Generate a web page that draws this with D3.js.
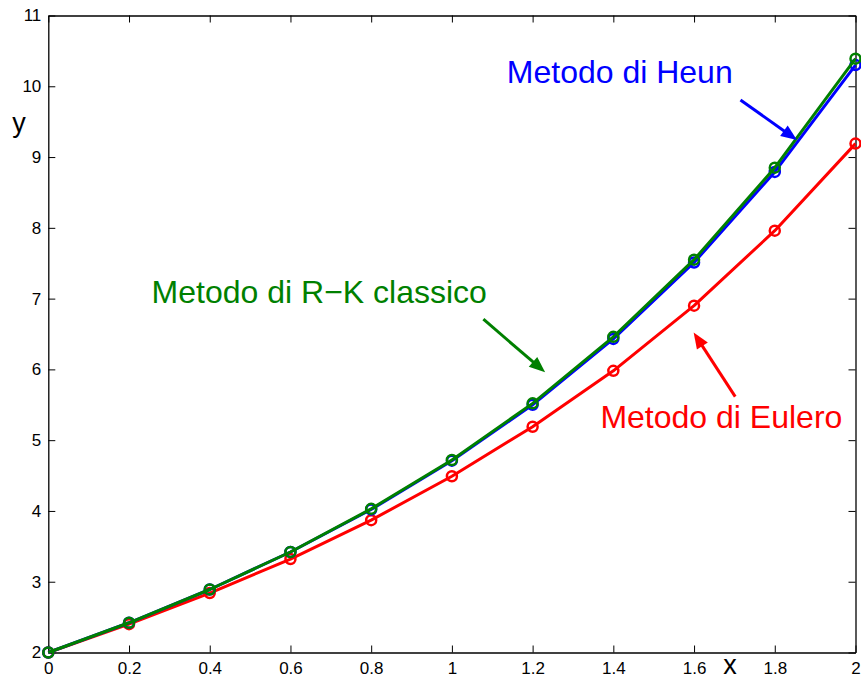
<!DOCTYPE html>
<html>
<head>
<meta charset="utf-8">
<script src="https://cdn.jsdelivr.net/npm/d3@7"></script>
<style>
  body { margin: 0; background: #fff; }
  svg { display: block; font-family: "Liberation Sans", Arial, Helvetica, sans-serif; }
</style>
</head>
<body>
<svg width="861" height="681"></svg>
<script>
// step points and the three numerical solutions
var xs = [0, 0.2, 0.4, 0.6, 0.8, 1.0, 1.2, 1.4, 1.6, 1.8, 2.0];
var eulero = [2, 2.40, 2.84, 3.32, 3.87, 4.49, 5.19, 5.98, 6.90, 7.96, 9.19];
var heun = [2, 2.42, 2.89, 3.42, 4.02, 4.71, 5.50, 6.43, 7.51, 8.79, 10.30];
var rk = [2, 2.42, 2.89, 3.42, 4.03, 4.72, 5.52, 6.46, 7.55, 8.85, 10.39];

var xTicks = [0, 0.2, 0.4, 0.6, 0.8, 1, 1.2, 1.4, 1.6, 1.8, 2];
var xTickLabels = ["0", "0.2", "0.4", "0.6", "0.8", "1", "1.2", "1.4", "1.6", "1.8", "2"];
var yTicks = [2, 3, 4, 5, 6, 7, 8, 9, 10, 11];
var yTickLabels = ["2", "3", "4", "5", "6", "7", "8", "9", "10", "11"];

// annotations: label, text anchor (data units), arrow start and tip (data units)
var notes = [
  { text: "Metodo di Heun", color: "#0000ff", tx: 1.136, ty: 10.05, ax: 1.715, ay: 9.806, bx: 1.855, by: 9.24 },
  { text: "Metodo di R\u2212K classico", color: "#008000", tx: 0.256, ty: 6.94, ax: 1.078, ay: 6.709, bx: 1.231, by: 5.958 },
  { text: "Metodo di Eulero", color: "#ff0000", tx: 1.368, ty: 5.17, ax: 1.702, ay: 5.616, bx: 1.599, by: 6.52 }
];

var svg = d3.select("svg");
const margin = { left: 48.3, top: 15.5, right: 5.5, bottom: 28.5 };
const width = +svg.attr("width") - margin.left - margin.right;
const height = +svg.attr("height") - margin.top - margin.bottom;

var g = svg.append("g").attr("transform", "translate(" + margin.left + "," + margin.top + ")");

var x = d3.scaleLinear().domain([0, 2]).range([0, width]);
var y = d3.scaleLinear().domain([2, 11]).range([height, 0]);

function styleAxis(sel) {
  sel.select(".domain").attr("stroke", "#000").attr("stroke-width", 1.3);
  sel.selectAll(".tick line").attr("stroke", "#000").attr("stroke-width", 1);
  sel.selectAll("text").attr("fill", "#000").style("font-size", "17px");
}

g.append("g")
  .attr("transform", "translate(0," + height + ")")
  .call(d3.axisBottom(x).tickValues(xTicks).tickSizeInner(-7).tickSizeOuter(0).tickPadding(9)
    .tickFormat((d, i) => xTickLabels[i]))
  .call(styleAxis);

g.append("g")
  .call(d3.axisTop(x).tickValues(xTicks).tickSizeInner(-7).tickSizeOuter(0).tickFormat(""))
  .call(styleAxis);

g.append("g")
  .call(d3.axisLeft(y).tickValues(yTicks).tickSizeInner(-7).tickSizeOuter(0).tickPadding(7)
    .tickFormat((d, i) => yTickLabels[i]))
  .call(styleAxis);

g.append("g")
  .attr("transform", "translate(" + width + ",0)")
  .call(d3.axisRight(y).tickValues(yTicks).tickSizeInner(-7).tickSizeOuter(0).tickFormat(""))
  .call(styleAxis);

// axis labels
svg.append("text")
  .attr("x", 730).attr("y", 674)
  .attr("text-anchor", "middle")
  .style("font-size", "27px")
  .text("x");

svg.append("text")
  .attr("x", 19).attr("y", 132)
  .attr("text-anchor", "middle")
  .style("font-size", "27px")
  .text("y");

var line = d3.line()
  .x((d, i) => x(xs[i]))
  .y((d) => y(d));

var series = [
  { values: eulero, color: "#ff0000" },
  { values: heun, color: "#0000ff" },
  { values: rk, color: "#008000" }
];

series.forEach(function (s) {
  g.append("path")
    .datum(s.values)
    .attr("fill", "none")
    .attr("stroke", s.color)
    .attr("stroke-width", 3)
    .attr("stroke-linejoin", "round")
    .attr("d", line);

  g.append("g")
    .selectAll("circle")
    .data(s.values)
    .join("circle")
    .attr("cx", (d, i) => x(xs[i]))
    .attr("cy", (d) => y(d))
    .attr("r", 5)
    .attr("fill", "none")
    .attr("stroke", s.color)
    .attr("stroke-width", 2.5);
});

// annotation arrows and texts
notes.forEach(function (n) {
  var x0 = x(n.ax), y0 = y(n.ay), x1 = x(n.bx), y1 = y(n.by);
  var dx = x1 - x0, dy = y1 - y0;
  var len = Math.sqrt(dx * dx + dy * dy);
  var ux = dx / len, uy = dy / len;
  var headLen = 16, headW = 6.5;
  var bx = x1 - ux * headLen, by = y1 - uy * headLen;

  g.append("line")
    .attr("x1", x0).attr("y1", y0)
    .attr("x2", bx + ux * 2).attr("y2", by + uy * 2)
    .attr("stroke", n.color)
    .attr("stroke-width", 3);

  g.append("polygon")
    .attr("points", [
      [x1, y1],
      [bx - uy * headW, by + ux * headW],
      [bx + uy * headW, by - ux * headW]
    ].map((p) => p.join(",")).join(" "))
    .attr("fill", n.color);

  g.append("text")
    .attr("x", x(n.tx)).attr("y", y(n.ty))
    .attr("fill", n.color)
    .style("font-size", "32px")
    .text(n.text);
});
</script>
</body>
</html>
